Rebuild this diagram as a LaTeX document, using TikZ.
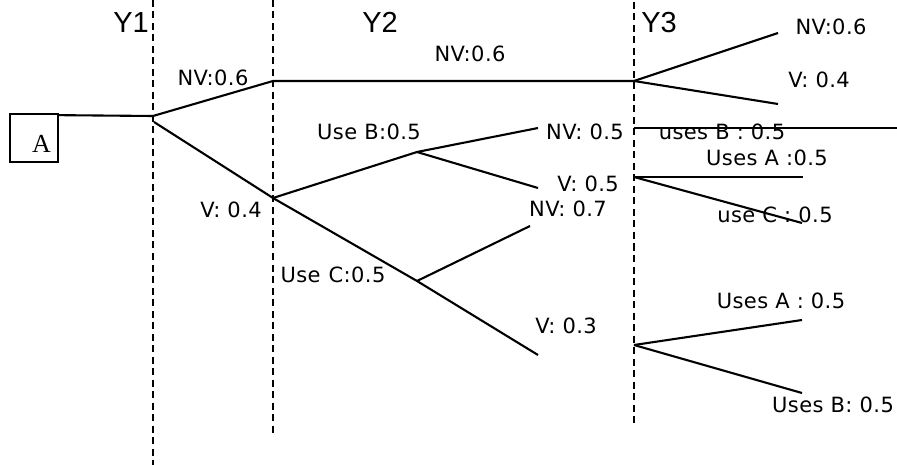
\documentclass[tikz,border=0pt]{standalone}
\usepackage{fontspec}
\newfontfamily\lblfont[LetterSpace=2]{DejaVu Sans}
\newfontfamily\yfont{Liberation Sans}
\newfontfamily\boxfont{Liberation Serif}
\tikzset{
  branch/.style={line width=2.1pt},
  yearline/.style={line width=1.9pt, dash pattern=on 7pt off 4.5pt},
  prob/.style={inner sep=0pt, anchor=base, font=\lblfont\fontsize{21}{23}\selectfont},
  yearlbl/.style={inner sep=0pt, anchor=base, font=\yfont\fontsize{29}{31}\selectfont},
}
\begin{document}
\begin{tikzpicture}[x=1pt, y=-1pt]
\useasboundingbox (0,0) rectangle (897,465);

% year columns
\coordinate (y1t) at (153,0);   \coordinate (y1b) at (153,465);
\coordinate (y2t) at (273,0);   \coordinate (y2b) at (273,435);
\coordinate (y3t) at (634,2);   \coordinate (y3b) at (634,427);
\draw[yearline] (y1t) -- (y1b);
\draw[yearline] (y2t) -- (y2b);
\draw[yearline] (y3t) -- (y3b);
\node[yearlbl] (Y1) at (131,33) {Y1};
\node[yearlbl] (Y2) at (380,33) {Y2};
\node[yearlbl] (Y3) at (659,33) {Y3};

% start box
\node[draw, line width=1.7pt, minimum width=48pt, minimum height=48pt, inner sep=0pt] (A) at (34,138) {};
\node[inner sep=0pt, anchor=base, font=\boxfont\fontsize{26}{28}\selectfont] (Atext) at (41.5,153) {A};

% decision points
\coordinate (n1) at (153,116);
\coordinate (n1v) at (154,122);
\coordinate (n2) at (273,81);
\coordinate (n3) at (273,198);
\coordinate (b) at (417,152);
\coordinate (c) at (417,281);
\coordinate (n2r) at (634,81);
\coordinate (bNV) at (538,128);
\coordinate (bV) at (538,188);
\coordinate (cNV) at (530,226);
\coordinate (cV) at (538,355);
\coordinate (t1) at (778,33);
\coordinate (t2) at (778,104);
\coordinate (u0) at (634,128);
\coordinate (u1) at (897,128);
\coordinate (w0) at (634,177);
\coordinate (w1) at (803,177);
\coordinate (w2) at (802,223);
\coordinate (z0) at (634,345);
\coordinate (z1) at (802,320);
\coordinate (z2) at (802,393);

% branches
\draw[branch] ([yshift=-2pt]A.north east) -- (n1);
\draw[branch] (n1) -- (n2) -- (n2r);
\draw[branch] (n1v) -- (n3);
\draw[branch] (n3) -- (b);
\draw[branch] (n3) -- (c) -- (cV);
\draw[branch] (b) -- (bNV);
\draw[branch] (b) -- (bV);
\draw[branch] (c) -- (cNV);
\draw[branch] (n2r) -- (t1);
\draw[branch] (n2r) -- (t2);
\draw[branch] (u0) -- (u1);
\draw[branch] (w0) -- (w1);
\draw[branch] (w0) -- (w2);
\draw[branch] (z0) -- (z1);
\draw[branch] (z0) -- (z2);

% probabilities
\node[prob] (p1) at (213,86) {NV:0.6};
\node[prob] (p2) at (470,62) {NV:0.6};
\node[prob] (p3) at (231,218) {V: 0.4};
\node[prob] (p4) at (369,140) {Use B:0.5};
\node[prob] (p5) at (333,283) {Use\hspace{8pt}C:0.5};
\node[prob] (p6) at (585,140) {NV: 0.5};
\node[prob] (p7) at (588,192) {V: 0.5};
\node[prob] (p8) at (568,217) {NV: 0.7};
\node[prob] (p9) at (566,333) {V: 0.3};
\node[prob] (p10) at (831,35) {NV:0.6};
\node[prob] (p11) at (819,88) {V: 0.4};
\node[prob] (p12) at (722,140) {uses B : 0.5};
\node[prob] (p13) at (767,166) {Uses A :0.5};
\node[prob] (p14) at (775,223) {use C : 0.5};
\node[prob] (p15) at (781,308) {Uses A : 0.5};
\node[prob] (p16) at (833,412) {Uses B: 0.5};
\end{tikzpicture}
\end{document}
